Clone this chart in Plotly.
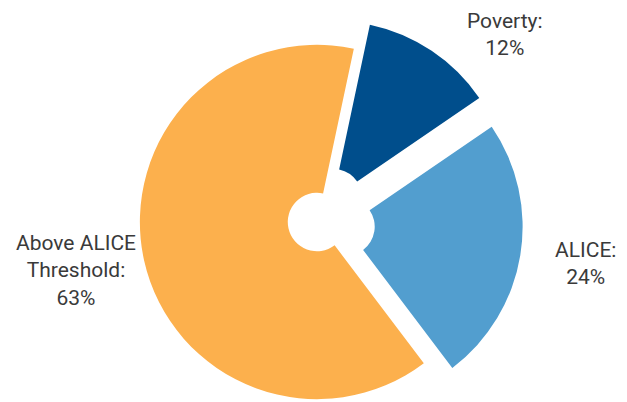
import plotly.graph_objects as go

# ---- data ----
categories = ["Poverty", "ALICE", "Above ALICE Threshold"]
values = [12, 24, 63]
label_texts = ["Poverty:<br>12%", "ALICE:<br>24%", "Above ALICE<br>Threshold:<br>63%"]
colors = ["#004E8C", "#529ECF", "#FCB04D"]
pulls = [0.163, 0.163, 0.0]

# ---- layout geometry (pixels, relative to the figure's own top-left) ----
W, H = 619, 420
TOP = 8
PIE_BOX = (103, 515)          # horizontal extent of the pie's domain box
label_pos_px = [(497, 27), (577, 256), (68, 262)]

fig = go.Figure(
    go.Pie(
        labels=categories,
        values=values,
        marker=dict(colors=colors, line=dict(width=0)),
        pull=pulls,
        hole=0.165,
        sort=False,
        direction="clockwise",
        rotation=12,
        textinfo="none",
        hoverinfo="label+percent",
        showlegend=False,
        domain=dict(x=[PIE_BOX[0] / W, PIE_BOX[1] / W], y=[0, 1]),
    )
)

gh = H - TOP
annotations = []
for txt, (px, py) in zip(label_texts, label_pos_px):
    annotations.append(
        dict(
            text=txt,
            x=px / W,
            y=(H - py) / gh,
            xref="paper",
            yref="paper",
            xanchor="center",
            yanchor="middle",
            showarrow=False,
            align="center",
            borderpad=0,
            font=dict(family="Roboto", size=21, color="#3A3A3A"),
        )
    )

fig.update_layout(
    width=W,
    height=H,
    margin=dict(l=0, r=0, t=TOP, b=0, pad=0),
    paper_bgcolor="white",
    plot_bgcolor="white",
    annotations=annotations,
)

fig.write_html("out.html")
